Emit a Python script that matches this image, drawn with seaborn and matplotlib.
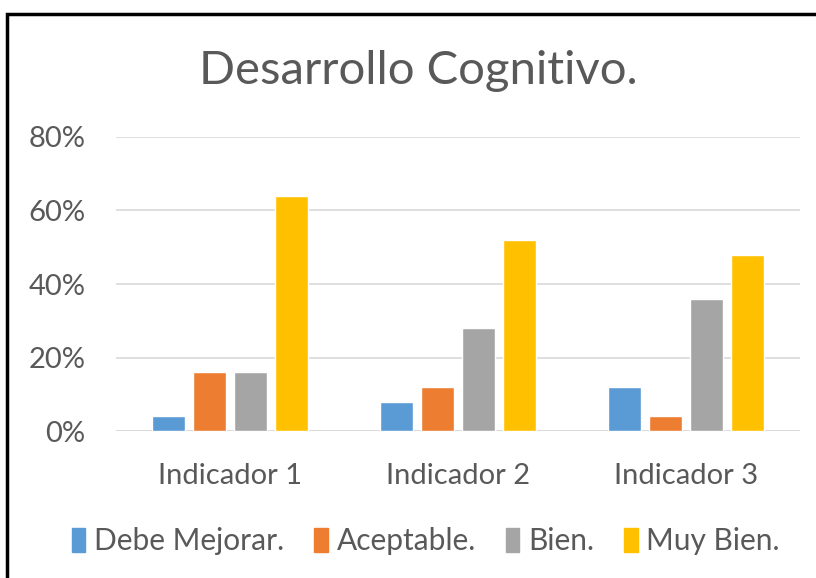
import matplotlib
matplotlib.use("Agg")
import matplotlib.pyplot as plt
import matplotlib.patches as mpatches
import seaborn as sns
import pandas as pd

# data
indicadores = ["Indicador 1", "Indicador 2", "Indicador 3"]
niveles = ["Debe Mejorar.", "Aceptable.", "Bien.", "Muy Bien."]
debe_mejorar = [0.04, 0.08, 0.12]
aceptable = [0.16, 0.12, 0.04]
bien = [0.16, 0.28, 0.36]
muy_bien = [0.64, 0.52, 0.48]
colores = ["#5b9bd5", "#ed7d31", "#a5a5a5", "#ffc000"]

rows = []
for nivel, vals in zip(niveles, [debe_mejorar, aceptable, bien, muy_bien]):
    for ind, v in zip(indicadores, vals):
        rows.append({"indicador": ind, "nivel": nivel, "valor": v})
df = pd.DataFrame(rows)

sns.set_style("white")
plt.rcParams["font.family"] = ["Lato", "DejaVu Sans"]

fig = plt.figure(figsize=(8.16, 5.78), dpi=100)
ax = fig.add_axes([0.142, 0.2543, 0.838, 0.5087])

sns.barplot(data=df, x="indicador", y="valor", hue="nivel", hue_order=niveles,
            palette=colores, saturation=1, width=0.72, gap=0.2, ax=ax, legend=False)

ax.set_ylim(0, 0.8)
ax.set_xlim(-0.5, 2.5)
ax.set_yticks([0, 0.2, 0.4, 0.6, 0.8])
ax.set_yticklabels(["0%", "20%", "40%", "60%", "80%"])
ax.yaxis.grid(True, color="#d9d9d9", linewidth=1.2)
ax.set_axisbelow(True)
for s in ax.spines.values():
    s.set_visible(False)
ax.axhline(0, color="#d9d9d9", linewidth=1.2, zorder=0)
ax.tick_params(axis="both", length=0, labelsize=21, labelcolor="#595959")
ax.tick_params(axis="x", pad=23)
ax.tick_params(axis="y", pad=22)
ax.set_xlabel("")
ax.set_ylabel("")

fig.text(0.513, 0.877, "Desarrollo Cognitivo.", ha="center", va="center",
         fontsize=34, color="#595959")

handles = [mpatches.Patch(color=c, label=n) for c, n in zip(colores, niveles)]
fig.legend(handles=handles, loc="center", bbox_to_anchor=(0.522, 0.064), ncol=4,
           frameon=False, fontsize=21.5, labelcolor="#595959",
           handlelength=0.45, handleheight=0.85, handletextpad=0.3, columnspacing=1.0)

# outer frame of the chart
frame = mpatches.Rectangle((7 / 816, -0.05), 1.2, 1 - 14 / 578 + 0.05,
                           transform=fig.transFigure, fill=False,
                           edgecolor="black", linewidth=2.5)
fig.patches.append(frame)

fig.savefig("out.png", dpi=100)
